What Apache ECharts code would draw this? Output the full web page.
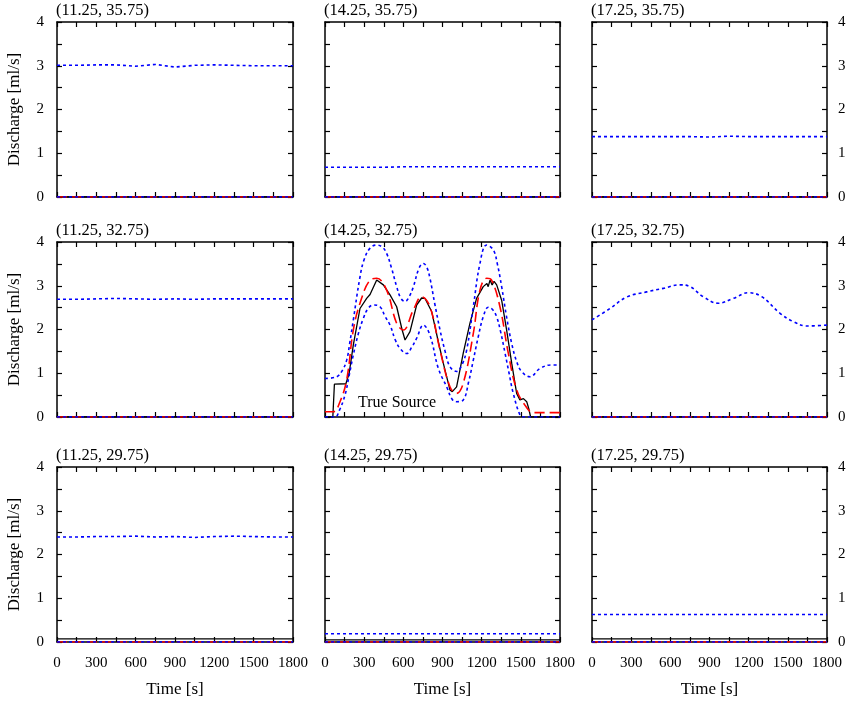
<!DOCTYPE html>
<html><head><meta charset="utf-8">
<script src="https://cdn.jsdelivr.net/npm/echarts@6/dist/echarts.min.js"></script>
<style>html,body{margin:0;padding:0;background:#fff}#c{width:851px;height:701px}</style>
</head><body><div id="c"></div>
<script>
// ---------- data ----------
const panelTitles = ['(11.25, 35.75)','(14.25, 35.75)','(17.25, 35.75)',
                     '(11.25, 32.75)','(14.25, 32.75)','(17.25, 32.75)',
                     '(11.25, 29.75)','(14.25, 29.75)','(17.25, 29.75)'];
const xTickLabels = [0,300,600,900,1200,1500,1800];
const yTickLabels = [0,1,2,3,4];

const tFlat = [0,150,300,450,600,750,900,1050,1200,1350,1500,1650,1800];
const tEnds = [0,1800];
const zeroLine = [0,0];

// upper (blue dotted) bounds in the flat panels
const upperTL = [3.01,3.01,3.02,3.02,2.99,3.03,2.97,3.01,3.02,3.01,3.00,3.00,3.00];
const upperTM = [0.68,0.68,0.68,0.68,0.69,0.69,0.69,0.69,0.69,0.69,0.69,0.69,0.69];
const upperTR = [1.38,1.38,1.38,1.38,1.38,1.38,1.37,1.39,1.38,1.38,1.38,1.38,1.38];
const upperML = [2.69,2.69,2.70,2.71,2.70,2.69,2.70,2.69,2.70,2.70,2.70,2.70,2.70];
const upperBL = [2.40,2.40,2.41,2.41,2.42,2.40,2.41,2.39,2.41,2.42,2.41,2.40,2.40];
const upperBM = [0.19,0.19,0.19,0.19,0.19,0.19,0.19,0.19,0.19,0.19,0.19,0.19,0.19];
const upperBR = [0.63,0.63,0.63,0.63,0.63,0.63,0.63,0.63,0.63,0.63,0.63,0.63,0.63];

// bottom-row true source level
const srcBL = [0.07,0.07];
const srcBM = [0.05,0.05];
const srcBR = [0.07,0.07];

// middle-right upper bound
const tUpperMR = [0,138,265,419,546,674,751,852,967,1082,1197,1300,1440,1542,1644,1800];
const upperMR  = [2.22,2.48,2.74,2.86,2.94,3.02,2.98,2.75,2.60,2.71,2.84,2.75,2.37,2.18,2.08,2.10];

// centre panel (14.25, 32.75)
const tSrcC = [0,60,72,160,185,217,268,319,345,396,447,498,549,590,613,651,702,740,766,817,868,906,957,975,1008,1059,1110,1161,1212,1240,1250,1264,1280,1295,1315,1353,1391,1430,1468,1493,1520,1545,1560,1575,1800];
const srcC  = [0,0,0.75,0.76,1.0,1.65,2.48,2.71,2.80,3.13,3.02,2.79,2.52,2.0,1.76,1.95,2.56,2.72,2.71,2.41,1.72,1.23,0.62,0.58,0.69,1.46,2.14,2.71,2.98,3.05,2.98,3.13,3.02,3.10,3.02,2.67,1.99,1.23,0.54,0.39,0.42,0.35,0.2,0,0];

const tMeanC = [0,64,115,166,217,268,345,396,472,549,600,677,740,804,881,957,1008,1059,1136,1187,1238,1276,1340,1404,1468,1532,1596,1800];
const meanC  = [0.12,0.12,0.35,0.85,1.99,2.6,3.13,3.17,2.9,2.14,1.99,2.45,2.75,2.52,1.53,0.69,0.54,0.77,1.91,2.9,3.17,3.13,2.52,1.46,0.62,0.27,0.10,0.10];

const tUpperC = [0,89,130,166,190,217,268,300,345,396,440,472,510,549,580,613,645,677,720,753,780,804,840,881,920,957,1008,1050,1085,1136,1187,1238,1289,1320,1353,1390,1430,1470,1506,1570,1647,1736,1800];
const upperC  = [0.88,0.92,1.05,1.30,1.7,2.22,3.2,3.6,3.86,3.93,3.88,3.74,3.4,2.98,2.72,2.64,2.75,2.98,3.4,3.51,3.42,3.17,2.6,1.99,1.5,1.15,1.04,1.2,1.53,2.52,3.51,3.93,3.82,3.5,2.98,2.3,1.68,1.25,1.04,0.92,1.11,1.19,1.19];

const tLowerC = [0,77,110,153,185,217,255,293,330,370,421,460,498,540,574,625,665,702,753,804,868,932,975,1008,1059,1100,1136,1175,1212,1251,1285,1315,1345,1379,1410,1442,1493,1520,1800];
const lowerC  = [0,0,0.15,0.5,0.95,1.42,1.9,2.25,2.48,2.56,2.52,2.3,2.10,1.75,1.57,1.45,1.6,1.80,2.10,1.87,1.11,0.69,0.4,0.35,0.39,0.8,1.30,1.85,2.29,2.51,2.45,2.29,1.95,1.46,1.0,0.54,0.05,0,0];

// ---------- chart ----------
const pairs = (xs, ys) => xs.map((x, i) => [x, ys[i]]);
const FONT = 'Liberation Serif';
const BLUE = '#0000ff', RED = '#ff0000', BLACK = '#000000';

const colLeft = [57, 325, 592], colWidth = [236, 235, 235];
const rowTop = [22, 242, 467], rowHeight = 175;

const panels = [
  {upper: pairs(tFlat, upperTL), lower: pairs(tEnds, zeroLine), mean: pairs(tEnds, zeroLine), src: pairs(tEnds, zeroLine)},
  {upper: pairs(tFlat, upperTM), lower: pairs(tEnds, zeroLine), mean: pairs(tEnds, zeroLine), src: pairs(tEnds, zeroLine)},
  {upper: pairs(tFlat, upperTR), lower: pairs(tEnds, zeroLine), mean: pairs(tEnds, zeroLine), src: pairs(tEnds, zeroLine)},
  {upper: pairs(tFlat, upperML), lower: pairs(tEnds, zeroLine), mean: pairs(tEnds, zeroLine), src: pairs(tEnds, zeroLine)},
  {upper: pairs(tUpperC, upperC), lower: pairs(tLowerC, lowerC), mean: pairs(tMeanC, meanC), src: pairs(tSrcC, srcC), centre: true},
  {upper: pairs(tUpperMR, upperMR), lower: pairs(tEnds, zeroLine), mean: pairs(tEnds, zeroLine), src: pairs(tEnds, zeroLine), smoothUpper: true},
  {upper: pairs(tFlat, upperBL), lower: pairs(tEnds, zeroLine), mean: pairs(tEnds, zeroLine), src: pairs(tEnds, srcBL)},
  {upper: pairs(tFlat, upperBM), lower: pairs(tEnds, zeroLine), mean: pairs(tEnds, zeroLine), src: pairs(tEnds, srcBM)},
  {upper: pairs(tFlat, upperBR), lower: pairs(tEnds, zeroLine), mean: pairs(tEnds, zeroLine), src: pairs(tEnds, srcBR)}
];

const grid = [], xAxis = [], yAxis = [], series = [], title = [];
const axisLine = {show: true, onZero: false, lineStyle: {color: BLACK, width: 1.5}};
const tick = {show: true, inside: true, length: 5, lineStyle: {color: BLACK, width: 1.2}};
const labelStyle = {fontFamily: FONT, fontSize: 15, color: BLACK};
const nameStyle = {fontFamily: FONT, fontSize: 17, color: BLACK};

panels.forEach((p, i) => {
  const r = Math.floor(i / 3), c = i % 3;
  grid.push({left: colLeft[c], top: rowTop[r], width: colWidth[c], height: rowHeight,
             show: false, containLabel: false});
  title.push({text: panelTitles[i], left: colLeft[c] - 1, top: rowTop[r] - 20, padding: 0,
              textStyle: {fontFamily: FONT, fontSize: 16.5, fontWeight: 'normal', color: BLACK}});
  const bottomRow = r === 2;
  xAxis.push({type: 'value', gridIndex: i, min: 0, max: 1800, interval: 150, position: 'bottom',
    axisLine, axisTick: tick, splitLine: {show: false},
    axisLabel: Object.assign({show: bottomRow, margin: 14,
      formatter: v => (xTickLabels.indexOf(v) >= 0 ? String(v) : '')}, labelStyle),
    name: bottomRow ? 'Time [s]' : '', nameLocation: 'middle', nameGap: 39,
    nameTextStyle: nameStyle});
  xAxis.push({type: 'value', gridIndex: i, min: 0, max: 1800, interval: 150, position: 'top',
    axisLine, axisTick: tick, splitLine: {show: false}, axisLabel: {show: false}});
  yAxis.push({type: 'value', gridIndex: i, min: 0, max: 4, interval: 0.5, position: 'left',
    axisLine, axisTick: tick, splitLine: {show: false},
    axisLabel: Object.assign({show: c === 0, margin: 13,
      formatter: v => (yTickLabels.indexOf(v) >= 0 ? String(v) : '')}, labelStyle),
    name: c === 0 ? 'Discharge [ml/s]' : '', nameLocation: 'middle', nameGap: 34, nameRotate: 90,
    nameTextStyle: nameStyle});
  yAxis.push({type: 'value', gridIndex: i, min: 0, max: 4, interval: 0.5, position: 'right',
    axisLine, axisTick: tick, splitLine: {show: false},
    axisLabel: Object.assign({show: c === 2, margin: 11,
      formatter: v => (yTickLabels.indexOf(v) >= 0 ? String(v) : '')}, labelStyle)});

  const xi = i * 2, yi = i * 2;
  const smooth = p.centre || p.smoothUpper ? 0.4 : false;
  series.push({type: 'line', xAxisIndex: xi, yAxisIndex: yi, data: p.src, showSymbol: false,
    symbol: 'none', lineStyle: {color: BLACK, width: 1.3}, z: 3, silent: true});
  series.push({type: 'line', xAxisIndex: xi, yAxisIndex: yi, data: p.mean, showSymbol: false,
    symbol: 'none', smooth: p.centre ? 0.4 : false,
    lineStyle: {color: RED, width: 1.6, type: [10, 5]}, z: 4, silent: true});
  series.push({type: 'line', xAxisIndex: xi, yAxisIndex: yi, data: p.lower, showSymbol: false,
    symbol: 'none', smooth: p.centre ? 0.4 : false,
    lineStyle: {color: BLUE, width: 1.6, type: [3, 3]}, z: 5, silent: true});
  series.push({type: 'line', xAxisIndex: xi, yAxisIndex: yi, data: p.upper, showSymbol: false,
    symbol: 'none', smooth: smooth,
    lineStyle: {color: BLUE, width: 1.6, type: [3, 3]}, z: 5, silent: true});
});

const chart = echarts.init(document.getElementById('c'), null, {renderer: 'canvas'});
chart.setOption({
  animation: false,
  backgroundColor: '#ffffff',
  title, grid, xAxis, yAxis, series,
  graphic: [{type: 'text', left: 358, top: 395,
    style: {text: 'True Source', font: '16px "Liberation Serif"', fill: BLACK}}]
});
</script></body></html>
